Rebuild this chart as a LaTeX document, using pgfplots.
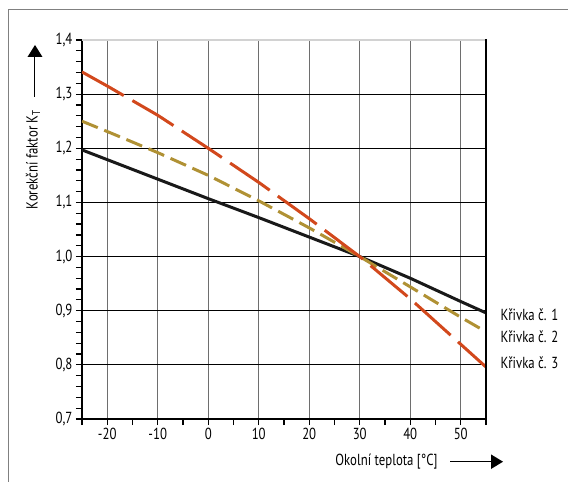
\documentclass[border=0pt]{standalone}
\usepackage{fontspec}
\setmainfont{PT Sans}[FakeStretch=0.8]
\usepackage{pgfplots}
\pgfplotsset{compat=1.18}
\definecolor{kred}{RGB}{210,72,28}
\definecolor{kolive}{RGB}{176,145,52}
\definecolor{kgrid}{RGB}{110,110,110}
\newcommand\lf{\fontsize{16}{19}\selectfont}

\begin{document}
\begin{tikzpicture}
\begin{axis}[
  at={(0pt,0pt)}, anchor=south west,
  scale only axis, width=404pt, height=379pt,
  xmin=-25, xmax=55, ymin=0.7, ymax=1.4,
  axis x line*=bottom, axis y line*=left,
  axis line style={black, line width=1.2pt},
  xtick={-20,-10,0,10,20,30,40,50},
  xticklabels={-20,-10,0,10,20,30,40,50},
  ytick={0.7,0.8,0.9,1.0,1.1,1.2,1.3,1.4},
  yticklabels={{0,7},{0,8},{0,9},{1,0},{1,1},{1,2},{1,3},{1,4}},
  minor xtick={-25,-15,-5,5,15,25,35,45,55},
  minor y tick num=4,
  tick align=outside,
  major tick length=6pt, minor tick length=6pt,
  every tick/.style={black, line width=1.2pt},
  grid=major,
  x grid style={kgrid, line width=1.3pt},
  y grid style={black, line width=1.2pt},
  ticklabel style={font=\lf},
]
% Krivka c. 1
\addplot[black!90, line width=3pt] coordinates {
  (-25,1.197) (-20,1.179) (-10,1.143) (0,1.107) (10,1.072) (20,1.036)
  (30,1.0) (40,0.960) (50,0.917) (55,0.896)
};
% Krivka c. 2
\addplot[kolive, line width=3pt, dash pattern=on 17pt off 7pt] coordinates {
  (-25,1.25) (-20,1.231) (-10,1.192) (0,1.150) (10,1.103) (20,1.053)
  (30,1.0) (40,0.944) (50,0.888) (55,0.861)
};
% Krivka c. 3
\addplot[kred, line width=3pt, dash pattern=on 48pt off 10pt] coordinates {
  (-25,1.341) (-20,1.315) (-10,1.261) (0,1.2) (10,1.137) (20,1.07)
  (30,1.0) (40,0.922) (50,0.838) (55,0.796)
};
\end{axis}
\begin{scope}[x=1pt,y=1pt]
  \draw[gray!35, line width=1.6pt] (0,379) -- (404,379);
  \draw[black, line width=1.2pt] (404,0) -- (404,379.8);
  \draw[gray, line width=0.9pt] (-74,-63) -- (-74,410) -- (486,410);
  \node[rotate=90, font=\lf] at (-49,259.5) {Korekční faktor K\textsubscript{T}};
  \draw[line width=1pt] (-47,322) -- (-47,364);
  \fill (-54.5,362) -- (-39.5,362) -- (-47,374) -- cycle;
  \node[font=\lf] at (304.5,-43) {Okolní teplota [°C]};
  \draw[line width=1pt] (368,-42.7) -- (410,-42.7);
  \fill (409,-50) -- (409,-35.4) -- (421,-42.7) -- cycle;
  \node[anchor=west, font=\lf] at (415,104) {Křivka č. 1};
  \node[anchor=west, font=\lf] at (415,82) {Křivka č. 2};
  \node[anchor=west, font=\lf] at (415,56) {Křivka č. 3};
  \pgfresetboundingbox
  \path[use as bounding box] (-82,-63) rectangle (486,419);
\end{scope}
\end{tikzpicture}
\end{document}
